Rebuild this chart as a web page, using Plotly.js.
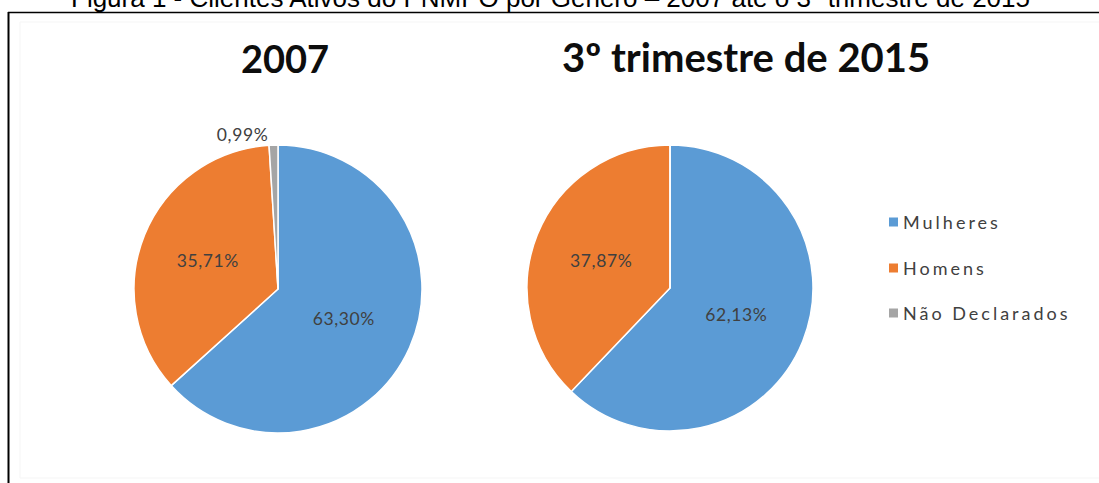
<!DOCTYPE html>
<html>
<head>
<meta charset="utf-8">
<script src="https://cdn.plot.ly/plotly-3.0.1.min.js"></script>
<style>
  html, body { margin: 0; padding: 0; background: #ffffff; }
  #chart { width: 1099px; height: 483px; }
  g.annotation[data-index="3"] text,
  g.annotation[data-index="4"] text,
  g.annotation[data-index="5"] text { letter-spacing: 3px; }
  .slicetext { letter-spacing: 0.6px; }
</style>
</head>
<body>
<div id="chart"></div>
<script>
// ---- data ----
const figureTitle = "Figura 1 - Clientes Ativos do PNMPO por Gênero – 2007 até o 3º trimestre de 2015";
const categories = ["Mulheres", "Homens", "Não Declarados"];
const colors = ["#5B9BD5", "#ED7D31", "#A5A5A5"];
const pieTitles = ["2007", "3º trimestre de 2015"];
const values2007 = [63.30, 35.71, 0.99];
const values2015 = [62.13, 37.87, 0];

const W = 1099, H = 483;
const px = v => v / W;
const py = v => 1 - v / H;
const LEGEND_SPACING = 3;

function labelsFor(vals) {
  return vals.map(v => v > 0 ? v.toFixed(2).replace('.', ',') + '%' : '');
}

const common = {
  type: 'pie',
  labels: categories,
  sort: false,
  direction: 'clockwise',
  rotation: 0,
  marker: { colors: colors, line: { color: '#ffffff', width: 1.5 } },
  textinfo: 'text',
  insidetextorientation: 'horizontal',
  textfont: { family: 'Lato, "Liberation Sans", sans-serif', size: 17.5, color: '#404040' },
  outsidetextfont: { family: 'Lato, "Liberation Sans", sans-serif', size: 17.5, color: '#404040' },
  hoverinfo: 'label+percent',
  showlegend: false
};

const trace1 = Object.assign({}, common, {
  values: values2007,
  text: labelsFor(values2007),
  textposition: values2007.map(v => v < 5 ? 'outside' : 'inside'),
  domain: { x: [px(134), px(422)], y: [py(433), py(145)] }
});
const trace2 = Object.assign({}, common, {
  values: values2015,
  text: labelsFor(values2015),
  textposition: values2015.map(v => v < 5 ? 'outside' : 'inside'),
  domain: { x: [px(527), px(813)], y: [py(431), py(145)] }
});

const annotations = [
  { text: pieTitles[0], xref: 'paper', yref: 'paper', x: px(285), y: py(58), xanchor: 'center', yanchor: 'middle',
    showarrow: false, font: { family: 'Lato, "Liberation Sans", sans-serif', size: 38, color: '#0d0d0d', weight: 'bold' } },
  { text: pieTitles[1], xref: 'paper', yref: 'paper', x: px(746), y: py(57), xanchor: 'center', yanchor: 'middle',
    showarrow: false, font: { family: 'Lato, "Liberation Sans", sans-serif', size: 40, color: '#0d0d0d', weight: 'bold' } },
  { text: figureTitle, xref: 'paper', yref: 'paper', x: px(550), y: py(15), xanchor: 'center', yanchor: 'bottom',
    showarrow: false, font: { family: '"Liberation Sans", Arial, sans-serif', size: 26, color: '#000000' } }
];

const legendY = [222, 268, 313];
const shapes = [
  { type: 'line', xref: 'paper', yref: 'paper', x0: px(8.5), x1: px(8.5), y0: py(12), y1: 0, line: { color: '#000', width: 2 } },
  { type: 'line', xref: 'paper', yref: 'paper', x0: px(8), x1: 1, y0: py(12.5), y1: py(12.5), line: { color: '#000', width: 1.5 } },
  { type: 'rect', xref: 'paper', yref: 'paper', x0: px(20), x1: px(1110), y0: py(478), y1: py(22), line: { color: '#f5f5f5', width: 1 } }
];
categories.forEach((c, i) => {
  annotations.push({ text: c, xref: 'paper', yref: 'paper', x: px(901 + c.length * LEGEND_SPACING / 2), y: py(legendY[i]),
    xanchor: 'left', yanchor: 'middle',
    showarrow: false, font: { family: 'Lato, "Liberation Sans", sans-serif', size: 18, color: '#404040' } });
  shapes.push({ type: 'rect', xref: 'paper', yref: 'paper', x0: px(889), x1: px(898), y0: py(legendY[i] + 4.5), y1: py(legendY[i] - 4.5),
    fillcolor: colors[i], line: { width: 0 } });
});

const layout = {
  width: W, height: H,
  margin: { l: 0, r: 0, t: 0, b: 0 },
  paper_bgcolor: '#ffffff',
  separators: ',.',
  showlegend: false,
  annotations: annotations,
  shapes: shapes
};

Plotly.newPlot('chart', [trace1, trace2], layout, { displayModeBar: false, staticPlot: true });
</script>
</body>
</html>
